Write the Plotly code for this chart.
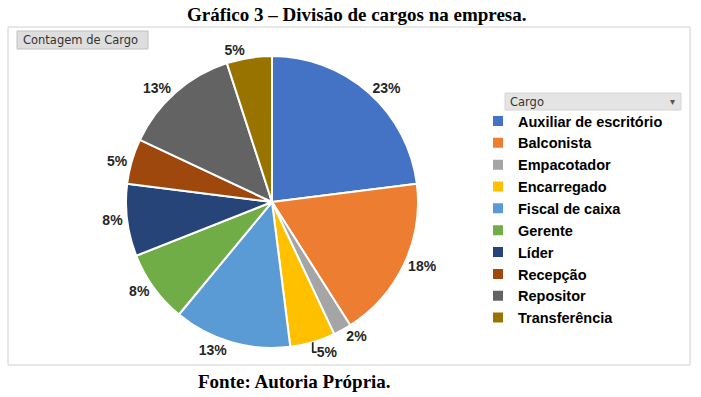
import plotly.graph_objects as go

W, H = 701, 397

categories = ["Auxiliar de escritório", "Balconista", "Empacotador", "Encarregado",
              "Fiscal de caixa", "Gerente", "Líder", "Recepção", "Repositor", "Transferência"]
values = [23, 18, 2, 5, 13, 8, 8, 5, 13, 5]
colors = ["#4472C4", "#ED7D31", "#A5A5A5", "#FFC000", "#5B9BD5",
          "#70AD47", "#264478", "#9E480E", "#636363", "#997300"]

title_text = "Gráfico 3 – Divisão de cargos na empresa."
source_text = "Fonte: Autoria Própria."
field_button = "Contagem de Cargo"
legend_header = "Cargo"


def px_x(x):
    return x / W


def px_y(y):
    return 1 - y / H


fig = go.Figure()

cx, cy, r = 272, 202, 146
fig.add_trace(go.Pie(
    labels=categories,
    values=values,
    sort=False,
    direction="clockwise",
    rotation=0,
    marker=dict(colors=colors, line=dict(color="white", width=2)),
    textposition="outside",
    texttemplate="%{percent:.0%}",
    textfont=dict(family="Liberation Sans", size=14, color="#262626", weight="bold"),
    domain=dict(x=[px_x(cx - r), px_x(cx + r)], y=[px_y(cy + r), px_y(cy - r)]),
    hoverinfo="label+value+percent",
    showlegend=True,
))

shapes = [
    # chart frame
    dict(type="rect", xref="paper", yref="paper",
         x0=px_x(8), x1=px_x(690), y0=px_y(365), y1=px_y(27),
         line=dict(color="#D0D0D0", width=1), fillcolor="rgba(0,0,0,0)", layer="below"),
    # field button
    dict(type="rect", xref="paper", yref="paper",
         x0=px_x(17), x1=px_x(148), y0=px_y(49), y1=px_y(31),
         line=dict(color="#C0C0C0", width=1), fillcolor="#DEDEDE", layer="below"),
    # legend header bar
    dict(type="rect", xref="paper", yref="paper",
         x0=px_x(505), x1=px_x(681), y0=px_y(110), y1=px_y(93),
         line=dict(color="#D4D4D4", width=1), fillcolor="#E4E4E4", layer="below"),
]

annotations = [
    dict(text=title_text, x=px_x(357), y=px_y(15), xref="paper", yref="paper",
         showarrow=False, xanchor="center", yanchor="middle",
         font=dict(family="Liberation Serif", size=19, color="black", weight="bold")),
    dict(text=source_text, x=px_x(294), y=px_y(381), xref="paper", yref="paper",
         showarrow=False, xanchor="center", yanchor="middle",
         font=dict(family="Liberation Serif", size=19, color="black", weight="bold")),
    dict(text=field_button, x=px_x(21), y=px_y(40), xref="paper", yref="paper",
         showarrow=False, xanchor="left", yanchor="middle",
         font=dict(family="DejaVu Sans", size=11.5, color="#333333")),
    dict(text=legend_header, x=px_x(508), y=px_y(101.5), xref="paper", yref="paper",
         showarrow=False, xanchor="left", yanchor="middle",
         font=dict(family="DejaVu Sans", size=11.5, color="#333333")),
    dict(text="▾", x=px_x(672), y=px_y(101.5), xref="paper", yref="paper",
         showarrow=False, xanchor="center", yanchor="middle",
         font=dict(family="DejaVu Sans", size=10, color="#555555")),
]

fig.update_layout(
    width=W, height=H,
    margin=dict(l=0, r=0, t=0, b=0),
    paper_bgcolor="white",
    plot_bgcolor="white",
    shapes=shapes,
    annotations=annotations,
    legend=dict(
        x=px_x(478), y=px_y(105), xanchor="left", yanchor="top",
        font=dict(family="Liberation Sans", size=14.5, color="black", weight="bold"),
        itemwidth=30, tracegroupgap=0, bgcolor="rgba(0,0,0,0)",
    ),
)

fig.write_html("out.html", config={"displayModeBar": False},
               post_script="document.body.style.margin='0';document.body.style.overflow='hidden';")
